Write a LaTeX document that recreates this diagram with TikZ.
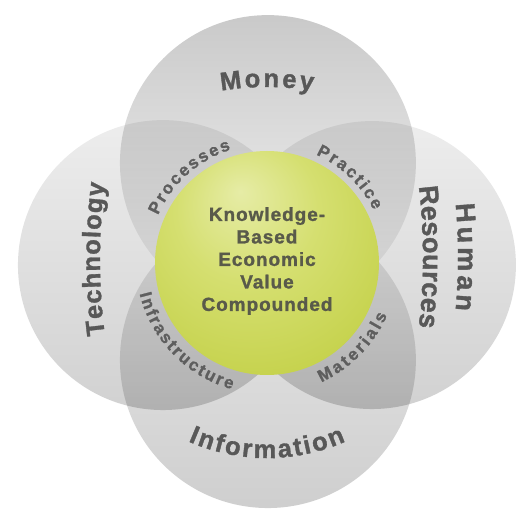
\documentclass[tikz,border=0pt]{standalone}
\usepackage{fontspec}
\setmainfont{Liberation Sans}
\newfontfamily\labelfamily{Liberation Sans Bold}[FakeBold=1.3]
\newfontfamily\corefamily{Liberation Sans Bold}[LetterSpace=5, FakeBold=1.3]
\usetikzlibrary{decorations.text,fadings,calc}

\definecolor{labelgray}{HTML}{585858}
\definecolor{innergray}{HTML}{5E5E5E}
\definecolor{coretext}{HTML}{595A4A}
\definecolor{gbA}{HTML}{E6ECA6}
\definecolor{gbB}{HTML}{D5DF70}
\definecolor{gbC}{HTML}{BECC3C}
\definecolor{gbD}{HTML}{A0B11C}

% vertical opacity ramps for the four grey discs
\tikzfading[name=fadeMoney, top color=transparent!79, bottom color=transparent!97]
\tikzfading[name=fadeSide,  top color=transparent!93, bottom color=transparent!82]
\tikzfading[name=fadeInfo,  top color=transparent!92, bottom color=transparent!81]

% soft white halo hugging the central sphere
\pgfdeclareradialshading{haloshade}{\pgfpointorigin}{%
  color(0bp)=(black); color(37bp)=(black); color(37.6bp)=(white!75!black);
  color(43bp)=(white!30!black); color(50bp)=(black)}
\pgfdeclarefading{halofade}{\pgfuseshading{haloshade}}

% the central green sphere
\pgfdeclareradialshading{greenball}{\pgfpoint{-6bp}{16bp}}{%
  color(0bp)=(gbA); color(16bp)=(gbB); color(42bp)=(gbC); color(62bp)=(gbD)}

\newcommand\outerfont{\labelfamily\fontsize{25.5}{30}\selectfont}
\newcommand\hrfont{\labelfamily\fontsize{27}{32}\selectfont}
\newcommand\innerfont{\labelfamily\fontsize{17}{20}\selectfont}

\tikzset{
  arclabel/.style n args={4}{decorate, decoration={text effects along path,
      text={#1}, text align=center, text effects/.cd, text along path,
      character widths={inner xsep=#2, font=#4}, characters={text=#3, font=#4}}},
  disc/.style={fill=black, draw=none},
}

\begin{document}
\begin{tikzpicture}[x=1pt,y=1pt]
  \useasboundingbox (-267pt,-247pt) rectangle (249pt,263pt);
  \fill[white] (-267pt,-247pt) rectangle (249pt,263pt);

  \coordinate (core)  at (0,0);
  \coordinate (money) at (1,100);
  \coordinate (info)  at (1,-97);
  \coordinate (tech)  at (-104,-2);
  \coordinate (human) at (105,-2);

  % centres of the gently curved baselines of the outer labels
  \coordinate (moneyarc) at (0,-104);
  \coordinate (techarc)  at (433,4);
  \coordinate (humanarc) at (-409,6);
  \coordinate (resarc)   at (-444,6);

  % grey discs
  \fill[disc, path fading=fadeSide]  (tech)  circle[radius=145pt];
  \fill[disc, path fading=fadeSide]  (human) circle[radius=144pt];
  \fill[disc, path fading=fadeMoney] (money) circle[radius=148pt];
  \fill[disc, path fading=fadeInfo]  (info)  circle[radius=148pt];

  % halo and sphere
  \fill[white, path fading=halofade] (core) circle[radius=150pt];
  \shade[shading=greenball] (core) circle[radius=112pt];

  % outer labels
  \path[arclabel={Money}{1.4pt}{labelgray}{\outerfont}]
    ($(moneyarc)+(120:280pt)$) arc[start angle=120, end angle=60, radius=280pt];
  \path[arclabel={Technology}{0.5pt}{labelgray}{\outerfont}]
    ($(techarc)+(197:600pt)$) arc[start angle=197, end angle=163, radius=600pt];
  \path[arclabel={Human}{1.9pt}{labelgray}{\hrfont}]
    ($(humanarc)+(15:600pt)$) arc[start angle=15, end angle=-15, radius=600pt];
  \path[arclabel={Resources}{0.2pt}{labelgray}{\hrfont}]
    ($(resarc)+(15:600pt)$) arc[start angle=15, end angle=-15, radius=600pt];
  \path[arclabel={Information}{1.1pt}{labelgray}{\outerfont}]
    ($(core)+(220:195pt)$) arc[start angle=220, end angle=320, radius=195pt];

  % inner labels
  \path[arclabel={Processes}{1.0pt}{innergray}{\innerfont}]
    ($(core)+(182:119pt)$) arc[start angle=182, end angle=82, radius=119pt];
  \path[arclabel={Practice}{1.1pt}{innergray}{\innerfont}]
    ($(core)+(96:119pt)$) arc[start angle=96, end angle=-4, radius=119pt];
  \path[arclabel={Infrastructure}{1.1pt}{innergray}{\innerfont}]
    ($(core)+(169:131pt)$) arc[start angle=169, end angle=279, radius=131pt];
  \path[arclabel={Materials}{1.4pt}{innergray}{\innerfont}]
    ($(core)+(260:131pt)$) arc[start angle=260, end angle=371, radius=131pt];

  % core statement
  \node[align=center, text=coretext, inner sep=0pt,
        font=\corefamily\fontsize{19}{22.5}\selectfont] (statement) at (0,2)
    {Knowledge-\\Based\\Economic\\Value\\Compounded};
\end{tikzpicture}
\end{document}
